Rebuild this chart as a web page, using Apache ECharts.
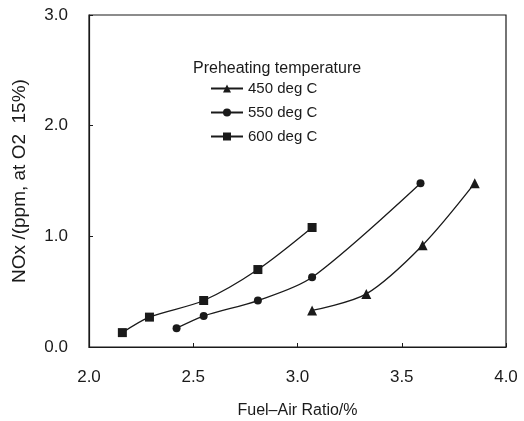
<!DOCTYPE html>
<html>
<head>
<meta charset="utf-8">
<script src="https://cdn.jsdelivr.net/npm/echarts@6/dist/echarts.min.js"></script>
<style>
  html, body { margin: 0; padding: 0; background: #fff; }
  #myChart { width: 524px; height: 421px; }
</style>
</head>
<body>
<div id="myChart"></div>
<script>
// fuel-air ratio (x) and NOx (y)
var x450 = [3.07, 3.33, 3.60, 3.85];
var y450 = [0.33, 0.48, 0.92, 1.48];
var x550 = [2.42, 2.55, 2.81, 3.07, 3.59];
var y550 = [0.17, 0.28, 0.42, 0.63, 1.48];
var x600 = [2.16, 2.29, 2.55, 2.81, 3.07];
var y600 = [0.13, 0.27, 0.42, 0.70, 1.08];
var seriesNames = ["450 deg C", "550 deg C", "600 deg C"];

function pairs(xs, ys) {
  return xs.map(function (v, i) { return [v, ys[i]]; });
}

var font = "Liberation Sans, Arial, sans-serif";
var ink = "#1a1a1a";

var myChart = echarts.init(document.getElementById("myChart"));

function line(name, data, symbol, size) {
  return {
    name: name,
    type: "line",
    smooth: 0.3,
    data: data,
    symbol: symbol,
    symbolSize: size,
    lineStyle: { color: ink, width: 1.3 },
    itemStyle: { color: ink },
    z: 3
  };
}

myChart.setOption({
  animation: false,
  title: {
    text: "Preheating temperature",
    left: 188,
    top: 56,
    textStyle: { fontFamily: font, fontSize: 16, fontWeight: "normal", color: ink }
  },
  legend: {
    orient: "vertical",
    left: 205,
    top: 76,
    itemGap: 9,
    itemWidth: 32,
    itemHeight: 10,
    textStyle: { fontFamily: font, fontSize: 15, color: ink },
    data: seriesNames
  },
  grid: {
    left: 89,
    right: 18,
    top: 15,
    bottom: 74,
    outerBoundsMode: "none",
    show: true,
    borderColor: ink,
    borderWidth: 1.2
  },
  xAxis: {
    type: "value",
    min: 2.0,
    max: 4.0,
    interval: 0.5,
    name: "Fuel\u2013Air Ratio/%",
    nameLocation: "middle",
    nameGap: 56,
    nameTextStyle: { fontFamily: font, fontSize: 16, color: ink },
    axisLine: { lineStyle: { color: ink, width: 1.2 } },
    axisTick: { inside: true, length: 4, lineStyle: { color: ink } },
    axisLabel: {
      fontFamily: font, fontSize: 17, color: ink, margin: 22,
      formatter: function (v) { return v.toFixed(1); }
    },
    splitLine: { show: false }
  },
  yAxis: {
    type: "value",
    min: 0,
    max: 3.0,
    interval: 1.0,
    name: "NOx /(ppm, at O2  15%)",
    nameLocation: "middle",
    nameGap: 60,
    nameTextStyle: { fontFamily: font, fontSize: 19, color: ink },
    axisLine: { lineStyle: { color: ink, width: 1.2 } },
    axisTick: { inside: true, length: 4, lineStyle: { color: ink } },
    axisLabel: {
      fontFamily: font, fontSize: 17, color: ink, margin: 21,
      formatter: function (v) { return v.toFixed(1); }
    },
    splitLine: { show: false }
  },
  series: [
    line(seriesNames[0], pairs(x450, y450), "triangle", 10),
    line(seriesNames[1], pairs(x550, y550), "circle", 8),
    line(seriesNames[2], pairs(x600, y600), "rect", 9)
  ]
});
</script>
</body>
</html>
